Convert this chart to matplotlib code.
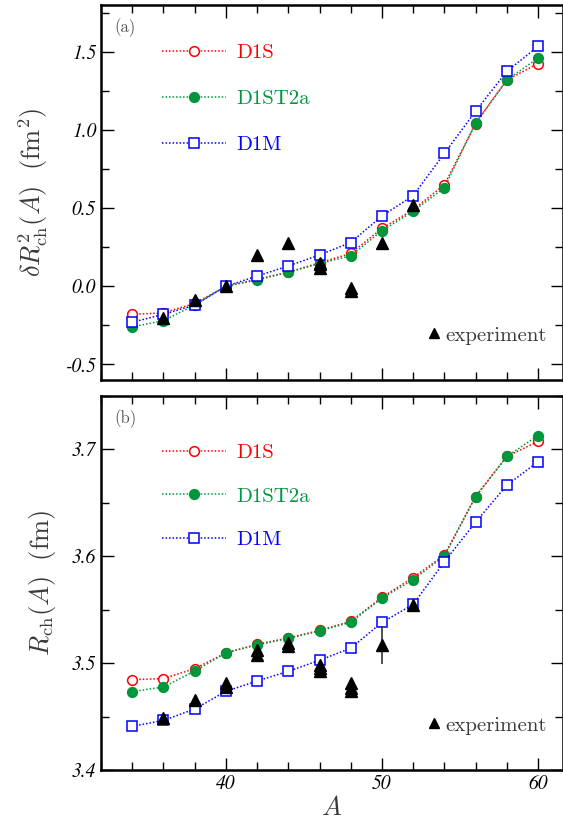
import matplotlib
matplotlib.use("Agg")
import matplotlib.pyplot as plt
from matplotlib.ticker import MultipleLocator, FuncFormatter
from matplotlib.lines import Line2D

plt.rcParams['mathtext.fontset'] = 'cm'
plt.rcParams['font.family'] = 'cmr10'
plt.rcParams['axes.unicode_minus'] = False

A = [34, 36, 38, 40, 42, 44, 46, 48, 50, 52, 54, 56, 58, 60]

# panel (a): delta R^2 (fm^2)
dr2_d1s = [-0.18, -0.17, -0.11, 0.0, 0.045, 0.09, 0.15, 0.21, 0.37, 0.49, 0.65, 1.04, 1.32, 1.425]
dr2_d1st2a = [-0.26, -0.22, -0.12, 0.0, 0.04, 0.09, 0.145, 0.195, 0.355, 0.48, 0.63, 1.045, 1.32, 1.46]
dr2_d1m = [-0.23, -0.18, -0.12, 0.0, 0.065, 0.13, 0.20, 0.28, 0.45, 0.58, 0.85, 1.12, 1.375, 1.535]

dr2_exp_A = [36, 38, 40, 42, 44, 46, 46, 46, 48, 48, 50, 52]
dr2_exp = [-0.20, -0.09, 0.0, 0.20, 0.28, 0.12, 0.14, 0.15, -0.01, -0.03, 0.28, 0.52]

# panel (b): R_ch (fm)
r_d1s = [3.4845, 3.4855, 3.4948, 3.5095, 3.5176, 3.5235, 3.5305, 3.5390, 3.5615, 3.5800, 3.6010, 3.6557, 3.6932, 3.7072]
r_d1st2a = [3.4733, 3.4776, 3.4926, 3.5095, 3.5170, 3.5230, 3.5300, 3.5382, 3.5607, 3.5780, 3.6000, 3.6557, 3.6932, 3.7128]
r_d1m = [3.4408, 3.4464, 3.4570, 3.4736, 3.4832, 3.4923, 3.5026, 3.5139, 3.5380, 3.5548, 3.5948, 3.6317, 3.6664, 3.6882]

r_exp_A = [36, 38, 40, 40, 42, 42, 44, 44, 46, 46, 46, 48, 48, 48, 50, 52]
r_exp = [3.4483, 3.4651, 3.4776, 3.4810, 3.5075, 3.5125, 3.5155, 3.5190, 3.4925, 3.4955, 3.4985,
         3.4736, 3.4771, 3.4810, 3.5168, 3.5540]
r_exp_err = [0, 0, 0, 0, 0, 0, 0, 0, 0, 0, 0, 0, 0, 0, 0.018, 0]

labels = ['D1S', 'D1ST2a', 'D1M']
colors = ['#ff0000', '#00963c', '#0000ff']
txtgray = '#3a3a3a'

fig = plt.figure(figsize=(5.63, 8.31), dpi=100)
ax1 = fig.add_axes([0.1794, 0.5427, 0.8206, 0.4513])
ax2 = fig.add_axes([0.1794, 0.0734, 0.8206, 0.4504])


def draw_panel(ax, series, exp_A, exp_v, leg_top, leg_space, exp_err=None):
    styles = [dict(marker='o', mfc='white', mec=colors[0]),
              dict(marker='o', mfc=colors[1], mec=colors[1]),
              dict(marker='s', mfc='white', mec=colors[2])]
    handles = []
    for vals, lab, c, st in zip(series, labels, colors, styles):
        h, = ax.plot(A, vals, linestyle=(0, (1, 1.3)), lw=1.1, color=c, ms=7,
                     mew=1.1, label=lab, zorder=3, **st)
        handles.append(h)
    if exp_err is not None:
        ax.errorbar(exp_A, exp_v, yerr=exp_err, fmt='none', ecolor='#333333',
                    elinewidth=1.2, capsize=0, zorder=4)
    ax.plot(exp_A, exp_v, linestyle='none', marker='^', color='black', ms=8, zorder=5)

    leg = ax.legend(handles=handles, loc='upper left', bbox_to_anchor=(0.115, leg_top),
                    frameon=False, fontsize=15, handlelength=3.05, handletextpad=0.5,
                    labelspacing=leg_space, labelcolor='linecolor', borderaxespad=0)
    ax.add_artist(leg)
    exp_h = Line2D([], [], linestyle='none', marker='^', color='black', ms=7)
    ax.legend(handles=[exp_h], labels=['experiment'], loc='lower right',
              bbox_to_anchor=(0.982, 0.072), frameon=False, fontsize=15,
              handlelength=0.5, handletextpad=0.3, labelcolor=txtgray, borderaxespad=0)

    ax.set_xlim(32, 61.6)
    ax.xaxis.set_major_locator(MultipleLocator(10))
    ax.xaxis.set_minor_locator(MultipleLocator(2))
    ax.tick_params(which='both', direction='in', top=True, right=True, width=1.0,
                   colors='black')
    ax.tick_params(which='major', length=9)
    ax.tick_params(which='minor', length=5.5)
    for sp in ax.spines.values():
        sp.set_linewidth(1.8)


draw_panel(ax1, [dr2_d1s, dr2_d1st2a, dr2_d1m], dr2_exp_A, dr2_exp, 0.92, 1.33)
ax1.set_ylim(-0.6, 1.8)
ax1.yaxis.set_major_locator(MultipleLocator(0.5))
ax1.yaxis.set_minor_locator(MultipleLocator(0.25))
ax1.yaxis.set_major_formatter(FuncFormatter(lambda v, p: '%.1f' % v))
ax1.tick_params(labelbottom=False)
ax1.set_ylabel(r'$\delta R^2_{\rm ch}(A)\ \ (\mathrm{fm}^2)$', fontsize=19, color=txtgray,
               labelpad=11)
ax1.text(0.03, 0.965, '(a)', transform=ax1.transAxes, fontsize=12, color='#555555',
         va='top', ha='left')

draw_panel(ax2, [r_d1s, r_d1st2a, r_d1m], r_exp_A, r_exp, 0.895, 1.2, r_exp_err)
ax2.set_ylim(3.4, 3.75)
ax2.yaxis.set_major_locator(MultipleLocator(0.1))
ax2.yaxis.set_minor_locator(MultipleLocator(0.05))
ax2.yaxis.set_major_formatter(FuncFormatter(lambda v, p: '%.1f' % v))
ax2.set_ylabel(r'$R_{\rm ch}(A)\ \ (\mathrm{fm})$', fontsize=19, color=txtgray, labelpad=10)
ax2.set_xlabel(r'$A$', fontsize=19, color=txtgray, labelpad=2)
ax2.text(0.03, 0.965, '(b)', transform=ax2.transAxes, fontsize=12, color='#555555',
         va='top', ha='left')

for ax in (ax1, ax2):
    for lab in ax.get_xticklabels() + ax.get_yticklabels():
        lab.set_fontfamily('STIXGeneral')
        lab.set_fontstyle('italic')
        lab.set_fontsize(14)

fig.savefig('out.png', dpi=100)
